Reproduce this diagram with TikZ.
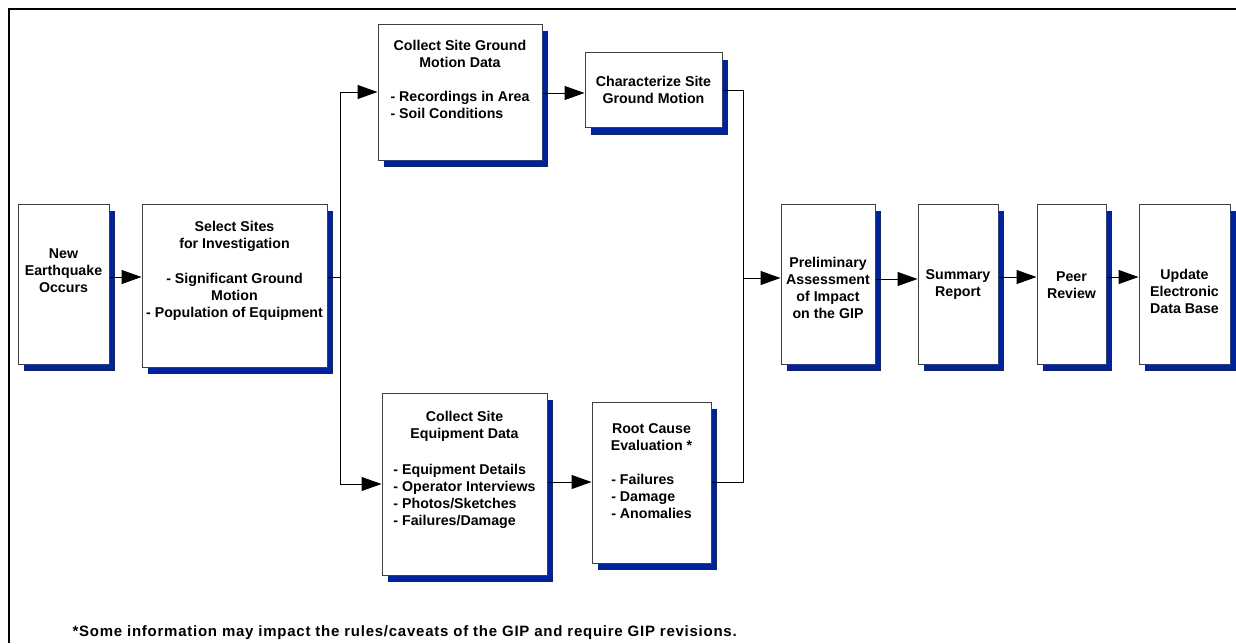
\documentclass[tikz,border=0pt]{standalone}
\usepackage{fontspec}
\setmainfont{Liberation Sans}
\newfontfamily\notefont[LetterSpace=5]{Liberation Sans}
\usetikzlibrary{arrows.meta,shadows}
\definecolor{gipblue}{RGB}{0,35,155}
\newcommand{\lst}[1]{\begin{tabular}{@{}l@{}}#1\end{tabular}}

\begin{document}
\begin{tikzpicture}[x=1pt,y=-1pt,line width=1pt]
	\tikzstyle{box}=[draw=black!75,fill=white,line width=1pt,inner sep=0pt,drop shadow={shadow xshift=6pt,shadow yshift=-7pt,fill=gipblue,opacity=1}]
	\tikzstyle{txt}=[align=center,font=\bfseries\fontsize{14.2}{17}\selectfont,inner sep=0pt]
	\tikzstyle{note}=[font=\notefont\bfseries\fontsize{15}{17}\selectfont,inner sep=0pt]
	\tikzstyle{arr}=[-{Triangle[length=20pt,width=14pt]}]

	\useasboundingbox (0,0) rectangle (1236,643);
	\draw[line width=2.2pt] (1236,9) -- (9,9) -- (9,643);

	% left part
	\node[box,minimum width=91pt,minimum height=160pt,label={[txt,yshift=13pt]center:{New\\Earthquake\\Occurs}}] (quake) at (63.5,284) {};
	\node[box,minimum width=185pt,minimum height=163pt,label={[txt,yshift=15pt]center:{Select Sites\\for Investigation\\[18pt]- Significant Ground\\Motion\\- Population of Equipment}}] (sites) at (234.5,285.5) {};

	% upper and lower branch
	\node[box,minimum width=164pt,minimum height=136pt,label={[txt,yshift=10pt]center:{Collect Site Ground\\Motion Data\\[21pt]\lst{- Recordings in Area\\- Soil Conditions}}}] (ground) at (460,92) {};
	\node[box,minimum width=137pt,minimum height=75pt,label={[txt]center:{Characterize Site\\Ground Motion}}] (charact) at (653.5,90) {};
	\node[box,minimum width=165pt,minimum height=182pt,label={[txt,yshift=13pt]center:{Collect Site\\Equipment Data\\[20pt]\lst{- Equipment Details\\- Operator Interviews\\- Photos/Sketches\\- Failures/Damage}}}] (equip) at (464.5,484) {};
	\node[box,minimum width=119pt,minimum height=161pt,label={[txt,yshift=9pt]center:{Root Cause\\Evaluation *\\[21pt]\lst{- Failures\\- Damage\\- Anomalies}}}] (cause) at (651.5,482.5) {};

	% right part
	\foreach \name/\x/\w/\s/\txt in {prelim/828/94/-4/{Preliminary\\Assessment\\of Impact\\on the GIP}, summary/958/80/-1/{Summary\\Report}, peer/1071.5/69/-1/{Peer\\Review}, update/1184.5/91/-7/{Update\\Electronic\\Data Base}}
	\node[box,minimum width=\w pt,minimum height=160pt,label={[txt,yshift=\s pt]center:\txt}] (\name) at (\x,284) {};

	\foreach \from/\to/\dy in {quake/sites/7, ground/charact/-1, equip/cause/2, prelim/summary/5, summary/peer/7, peer/update/7}
	\draw[arr] ([yshift=\dy pt]\from.east) -- ([yshift=\dy pt]\from.east -| \to.west);

	\coordinate (fork) at (340,277);
	\coordinate (join) at (743,278);
	\draw (sites.east |- fork) -- (fork);
	\draw[arr] (fork) |- (ground);
	\draw[arr] (fork) |- (equip);
	\draw (charact.east) -| (join);
	\draw (cause.east) -| (join);
	\draw[arr] (join) -- (join -| prelim.west);

	\node[note,anchor=west] (foot) at (72,633) {*Some information may impact the rules/caveats of the GIP and require GIP revisions.};
\end{tikzpicture}
\end{document}
